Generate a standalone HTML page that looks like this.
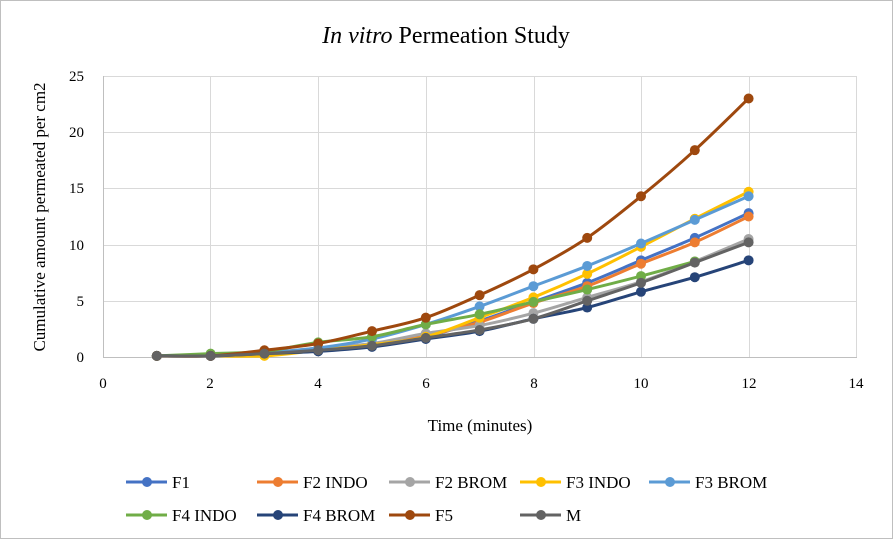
<!DOCTYPE html>
<html><head><meta charset="utf-8"><style>body{margin:0;background:#fff}svg{display:block}</style></head><body>
<svg width="893" height="539" xmlns="http://www.w3.org/2000/svg" font-family="Liberation Serif, serif">
<rect x="0.5" y="0.5" width="892" height="538" fill="#fff" stroke="#bfbfbf"/>
<text x="446" y="43" font-size="24" text-anchor="middle"><tspan font-style="italic">In vitro</tspan> Permeation Study</text>
<g stroke="#d9d9d9" stroke-width="1">
<line x1="103" y1="76.5" x2="857" y2="76.5"/><line x1="103" y1="132.5" x2="857" y2="132.5"/><line x1="103" y1="188.5" x2="857" y2="188.5"/><line x1="103" y1="245.5" x2="857" y2="245.5"/><line x1="103" y1="301.5" x2="857" y2="301.5"/>
<line x1="210.5" y1="76" x2="210.5" y2="357"/><line x1="318.5" y1="76" x2="318.5" y2="357"/><line x1="426.5" y1="76" x2="426.5" y2="357"/><line x1="534.5" y1="76" x2="534.5" y2="357"/><line x1="641.5" y1="76" x2="641.5" y2="357"/><line x1="749.5" y1="76" x2="749.5" y2="357"/><line x1="856.5" y1="76" x2="856.5" y2="357"/>
</g>
<line x1="103" y1="357.5" x2="857" y2="357.5" stroke="#bfbfbf"/>
<line x1="103.5" y1="76" x2="103.5" y2="357" stroke="#bfbfbf"/>
<g font-size="15" text-anchor="end">
<text x="84" y="362">0</text><text x="84" y="306">5</text><text x="84" y="250">10</text><text x="84" y="193">15</text><text x="84" y="137">20</text><text x="84" y="81">25</text>
</g>
<g font-size="15" text-anchor="middle">
<text x="103" y="388">0</text><text x="210" y="388">2</text><text x="318" y="388">4</text><text x="426" y="388">6</text><text x="534" y="388">8</text><text x="641" y="388">10</text><text x="749" y="388">12</text><text x="856" y="388">14</text>
</g>
<text x="480" y="431" font-size="17" text-anchor="middle">Time (minutes)</text>
<text transform="translate(45,217) rotate(-90)" font-size="17" text-anchor="middle">Cumulative amount permeated per cm2</text>
<g id="plot" fill="none" stroke-width="3" stroke-linejoin="round"></g>
<g id="leg" font-size="17"></g>
</svg>
<script>
const X=v=>103+v*53.8, Y=v=>357-v*11.24;
const S=[
["F1","#4472c4",[.1,.1,.3,.6,1.1,1.8,3.2,4.9,6.6,8.6,10.6,12.8]],
["F2 INDO","#ed7d31",[.1,.1,.3,.6,1.1,1.9,3.1,4.8,6.3,8.3,10.2,12.5]],
["F2 BROM","#a5a5a5",[.1,.1,.3,.8,1.2,2.1,2.8,3.9,5.3,6.7,8.5,10.5]],
["F3 INDO","#ffc000",[.1,.1,.1,.6,1.1,1.8,3.5,5.3,7.4,9.8,12.3,14.7]],
["F3 BROM","#5b9bd5",[.1,.1,.4,.8,1.6,2.9,4.5,6.3,8.1,10.1,12.2,14.3]],
["F4 INDO","#70ad47",[.1,.3,.5,1.3,1.8,2.9,3.8,4.9,6.0,7.2,8.5]],
["F4 BROM","#264478",[.1,.1,.3,.5,.9,1.6,2.3,3.4,4.4,5.8,7.1,8.6]],
["F5","#9e480e",[.1,.1,.6,1.2,2.3,3.5,5.5,7.8,10.6,14.3,18.4,23.0]],
["M","#636363",[.1,.1,.3,.6,1.0,1.7,2.4,3.4,5.0,6.6,8.4,10.2]]];
const ns="http://www.w3.org/2000/svg";
const P=document.getElementById("plot"),L=document.getElementById("leg");
function el(p,t,a){const e=document.createElementNS(ns,t);for(const k in a)e.setAttribute(k,a[k]);p.appendChild(e);return e;}
const cols=[126,257,389,520,649];
const pos=[[126,482],[257,482],[389,482],[520,482],[649,482],[126,515],[257,515],[389,515],[520,515]];
S.forEach((s,i)=>{
 const pts=s[2].map((v,j)=>[X(j+1),Y(v)]);
 let d="M"+pts[0];
 for(let j=0;j<pts.length-1;j++){const p0=pts[Math.max(j-1,0)],p1=pts[j],p2=pts[j+1],p3=pts[Math.min(j+2,pts.length-1)];
  d+=` C${p1[0]+(p2[0]-p0[0])/6},${p1[1]+(p2[1]-p0[1])/6} ${p2[0]-(p3[0]-p1[0])/6},${p2[1]-(p3[1]-p1[1])/6} ${p2[0]},${p2[1]}`;}
 el(P,"path",{d,stroke:s[1]});
 pts.forEach(p=>el(P,"circle",{cx:p[0],cy:p[1],r:5,fill:s[1],stroke:"none"}));
 const [lx,ly]=pos[i];
 el(L,"line",{x1:lx,y1:ly,x2:lx+41,y2:ly,stroke:s[1],"stroke-width":3});
 el(L,"circle",{cx:lx+21,cy:ly,r:5,fill:s[1]});
 const t=el(L,"text",{x:lx+46,y:ly+6});t.textContent=s[0];
});
</script>
</body></html>
